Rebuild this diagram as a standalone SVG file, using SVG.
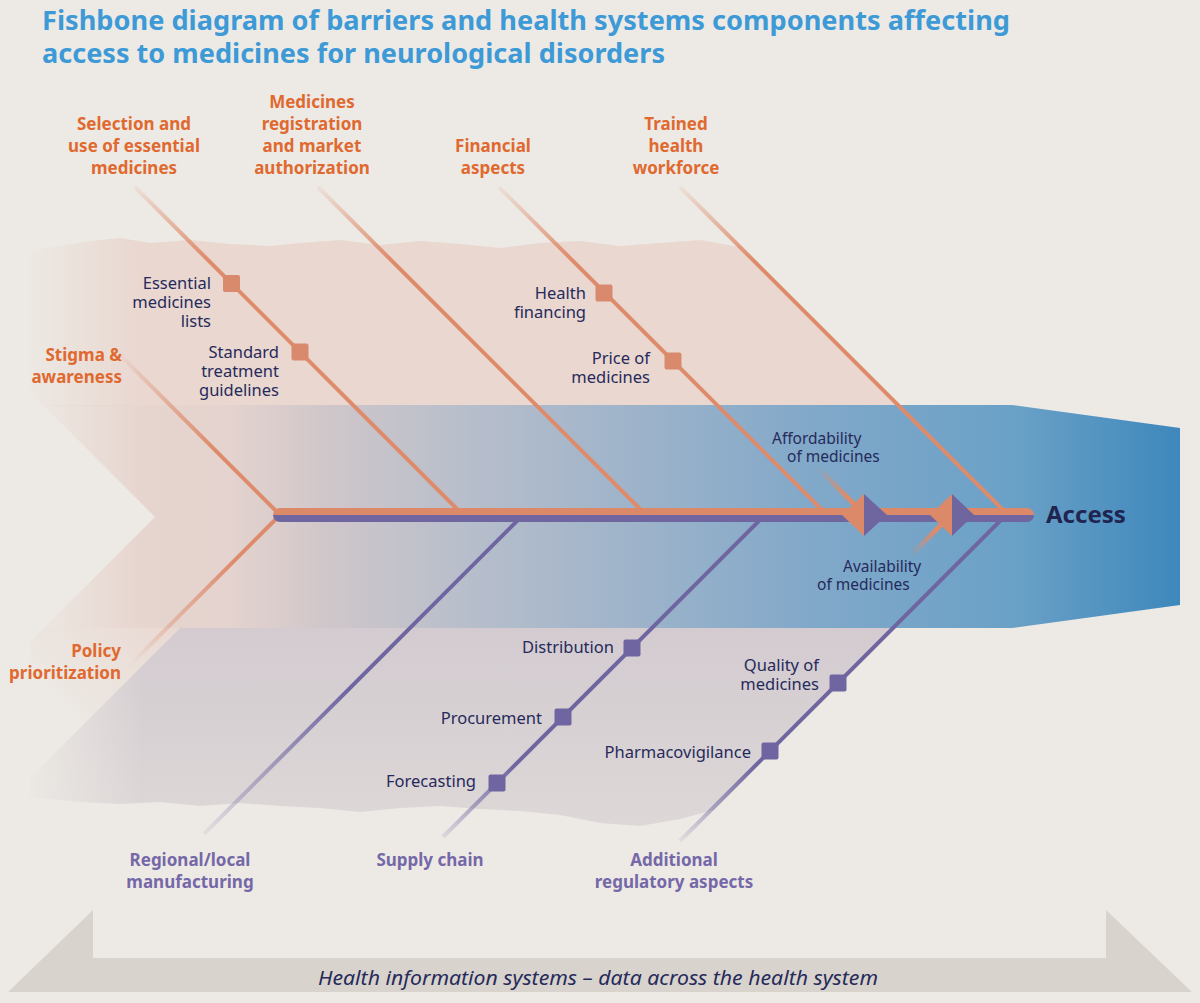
<svg xmlns="http://www.w3.org/2000/svg" width="1200" height="1003" viewBox="0 0 1200 1003">
<defs>
<style>
.lo{font-family:"Noto Sans","Open Sans",sans-serif;font-weight:700;font-size:17px;fill:#E0692F;text-anchor:middle}
.lor{font-family:"Noto Sans","Open Sans",sans-serif;font-weight:700;font-size:17px;fill:#E0692F;text-anchor:end}
.lp{font-family:"Noto Sans","Open Sans",sans-serif;font-weight:700;font-size:17px;fill:#7568A8;text-anchor:middle}
.sub{font-family:"Noto Sans","Open Sans",sans-serif;font-size:16.5px;fill:#262A5B;text-anchor:end}
.sm{font-family:"Noto Sans","Open Sans",sans-serif;font-size:15.5px;fill:#262A5B}
.bo{stroke-width:4;fill:none}
.sqo{fill:#DA8A6C}
.sqp{fill:#6F66A1}
</style>
<linearGradient id="mg" gradientUnits="userSpaceOnUse" x1="22" y1="0" x2="140" y2="0">
<stop offset="0" stop-color="#000"/><stop offset="1" stop-color="#fff"/>
</linearGradient>
<mask id="fadeL" maskUnits="userSpaceOnUse" x="0" y="0" width="1200" height="1003">
<rect x="0" y="0" width="1200" height="1003" fill="url(#mg)"/>
</mask>
<linearGradient id="blue" gradientUnits="userSpaceOnUse" x1="40" y1="0" x2="1180" y2="0">
<stop offset="0" stop-color="#E9D6CF"/>
<stop offset="0.167" stop-color="#E4D3CE"/>
<stop offset="0.254" stop-color="#CFC6CA"/>
<stop offset="0.36" stop-color="#BABFCB"/>
<stop offset="0.526" stop-color="#9DB3CA"/>
<stop offset="0.684" stop-color="#80A8C9"/>
<stop offset="0.852" stop-color="#6BA1C7"/>
<stop offset="1" stop-color="#3E88BC"/>
</linearGradient>
<linearGradient id="purp" gradientUnits="userSpaceOnUse" x1="0" y1="628" x2="0" y2="820">
<stop offset="0" stop-color="#D3CBD0"/><stop offset="1" stop-color="#DDD7D7"/>
</linearGradient>
<linearGradient id="stripe" gradientUnits="userSpaceOnUse" x1="175" y1="600" x2="60" y2="715">
<stop offset="0" stop-color="#E9D6CF" stop-opacity="1"/><stop offset="1" stop-color="#E9D6CF" stop-opacity="0"/>
</linearGradient>
<linearGradient id="gUp" gradientUnits="userSpaceOnUse" x1="0" y1="185" x2="0" y2="262">
<stop offset="0" stop-color="#DE8B6B" stop-opacity="0.08"/><stop offset="1" stop-color="#DE8B6B" stop-opacity="1"/>
</linearGradient>
<linearGradient id="gDown" gradientUnits="userSpaceOnUse" x1="0" y1="845" x2="0" y2="765">
<stop offset="0" stop-color="#6F66A1" stop-opacity="0.05"/><stop offset="1" stop-color="#6F66A1" stop-opacity="1"/>
</linearGradient>
<linearGradient id="gDownR" gradientUnits="userSpaceOnUse" x1="0" y1="840" x2="0" y2="690">
<stop offset="0" stop-color="#6F66A1" stop-opacity="0.05"/><stop offset="1" stop-color="#6F66A1" stop-opacity="1"/>
</linearGradient>
<linearGradient id="gStig" gradientUnits="userSpaceOnUse" x1="115" y1="0" x2="215" y2="0">
<stop offset="0" stop-color="#DE8B6B" stop-opacity="0"/><stop offset="1" stop-color="#DE8B6B" stop-opacity="1"/>
</linearGradient>
<linearGradient id="gPol" gradientUnits="userSpaceOnUse" x1="130" y1="0" x2="235" y2="0">
<stop offset="0" stop-color="#DE8B6B" stop-opacity="0"/><stop offset="1" stop-color="#DE8B6B" stop-opacity="1"/>
</linearGradient>
<linearGradient id="gAff" gradientUnits="userSpaceOnUse" x1="818" y1="468" x2="848" y2="498">
<stop offset="0" stop-color="#DE8B6B" stop-opacity="0"/><stop offset="1" stop-color="#DE8B6B" stop-opacity="1"/>
</linearGradient>
<linearGradient id="gAv" gradientUnits="userSpaceOnUse" x1="910" y1="556" x2="936" y2="530">
<stop offset="0" stop-color="#DE8B6B" stop-opacity="0"/><stop offset="1" stop-color="#DE8B6B" stop-opacity="1"/>
</linearGradient>
<clipPath id="spineClip"><rect x="273" y="508" width="761" height="14" rx="7"/></clipPath>
</defs>

<rect x="0" y="0" width="1200" height="1003" fill="#EDEAE5"/>

<g id="background-bands">
<path mask="url(#fadeL)" fill="#E9D7D0" d="M30,251 L60,246 L90,241 L120,238 L150,243 L190,240 L230,244 L270,246 L300,243 L340,240 L380,245 L420,241 L460,244 L500,248 L540,243 L580,241 L620,246 L660,243 L700,240 L740,247 L900,406 L43,406 L30,393 Z"/>
<path fill="url(#stripe)" d="M44,628 L180,628 L30,778 L30,642 Z"/>
<path mask="url(#fadeL)" fill="url(#purp)" d="M180,628 L896,628 L714,810 L680,819 L640,826 L600,823 L560,815 L520,811 L480,809 L440,806 L400,808 L360,812 L320,808 L280,806 L240,803 L200,806 L160,802 L120,804 L80,802 L30,797 L30,778 Z"/>
<path mask="url(#fadeL)" fill="url(#blue)" d="M43,405 L1012,405 L1180,428 L1180,605 L1012,628 L44,628 L155,517 Z"/>
</g>

<g id="connectors">
<line class="bo" stroke="url(#gUp)" x1="135" y1="187" x2="458" y2="510"/>
<line class="bo" stroke="url(#gUp)" x1="318" y1="187" x2="641" y2="510"/>
<line class="bo" stroke="url(#gUp)" x1="499" y1="187" x2="822" y2="510"/>
<line class="bo" stroke="url(#gUp)" x1="680" y1="187" x2="1003" y2="510"/>
<line class="bo" stroke="url(#gStig)" x1="115" y1="350" x2="277" y2="512"/>
<line class="bo" stroke="url(#gPol)" x1="277" y1="518" x2="128" y2="667"/>
<line class="bo" stroke="url(#gDownR)" x1="521" y1="517" x2="204" y2="834"/>
<line class="bo" stroke="url(#gDown)" x1="763" y1="517" x2="443" y2="837"/>
<line class="bo" stroke="url(#gDown)" x1="1004" y1="517" x2="680" y2="841"/>
<g clip-path="url(#spineClip)">
<rect x="270" y="508" width="770" height="7.5" fill="#DC896A"/>
<rect x="270" y="515" width="770" height="7" fill="#6F66A0"/>
</g>
<line stroke="url(#gAff)" stroke-width="5" x1="818" y1="468" x2="856" y2="506"/>
<line stroke="url(#gAv)" stroke-width="5" x1="910" y1="556" x2="944" y2="522"/>
<polygon fill="#DC896A" points="842,515 864,494 864,536"/>
<polygon fill="#6F66A0" points="864,494 887,515 864,536"/>
<polygon fill="#DC896A" points="930,515 952,494 952,536"/>
<polygon fill="#6F66A0" points="952,494 974,515 952,536"/>
</g>

<g id="title">
<text x="42" y="30" textLength="968" lengthAdjust="spacingAndGlyphs" style="font-family:'Noto Sans','Open Sans',sans-serif;font-weight:700;font-size:27px;fill:#3D9AD7">Fishbone diagram of barriers and health systems components affecting</text>
<text x="42" y="63" textLength="623" lengthAdjust="spacingAndGlyphs" style="font-family:'Noto Sans','Open Sans',sans-serif;font-weight:700;font-size:27px;fill:#3D9AD7">access to medicines for neurological disorders</text>
</g>

<g id="node-selection">
<text class="lo" x="134" y="130">Selection and</text>
<text class="lo" x="134" y="152">use of essential</text>
<text class="lo" x="134" y="174">medicines</text>
</g>
<g id="node-registration">
<text class="lo" x="312" y="108">Medicines</text>
<text class="lo" x="312" y="130">registration</text>
<text class="lo" x="312" y="152">and market</text>
<text class="lo" x="312" y="174">authorization</text>
</g>
<g id="node-financial">
<text class="lo" x="493" y="152">Financial</text>
<text class="lo" x="493" y="174">aspects</text>
</g>
<g id="node-workforce">
<text class="lo" x="676" y="130">Trained</text>
<text class="lo" x="676" y="152">health</text>
<text class="lo" x="676" y="174">workforce</text>
</g>
<g id="node-stigma">
<text class="lor" x="122" y="361">Stigma &amp;</text>
<text class="lor" x="122" y="383">awareness</text>
</g>
<g id="node-policy">
<text class="lor" x="121" y="657">Policy</text>
<text class="lor" x="121" y="679">prioritization</text>
</g>
<g id="node-regional">
<text class="lp" x="190" y="866">Regional/local</text>
<text class="lp" x="190" y="888">manufacturing</text>
</g>
<g id="node-supply">
<text class="lp" x="430" y="866">Supply chain</text>
</g>
<g id="node-regulatory">
<text class="lp" x="674" y="866">Additional</text>
<text class="lp" x="674" y="888">regulatory aspects</text>
</g>

<g id="node-eml">
<rect class="sqo" x="223" y="275" width="17" height="17" rx="2"/>
<text class="sub" x="211" y="289">Essential</text>
<text class="sub" x="211" y="308">medicines</text>
<text class="sub" x="211" y="327">lists</text>
</g>
<g id="node-stg">
<rect class="sqo" x="291.5" y="343.5" width="17" height="17" rx="2"/>
<text class="sub" x="279" y="358">Standard</text>
<text class="sub" x="279" y="377">treatment</text>
<text class="sub" x="279" y="396">guidelines</text>
</g>
<g id="node-healthfin">
<rect class="sqo" x="595.5" y="284.5" width="17" height="17" rx="2"/>
<text class="sub" x="586" y="299">Health</text>
<text class="sub" x="586" y="318">financing</text>
</g>
<g id="node-price">
<rect class="sqo" x="664.5" y="352.5" width="17" height="17" rx="2"/>
<text class="sub" x="650" y="364">Price of</text>
<text class="sub" x="650" y="383">medicines</text>
</g>
<g id="node-distribution">
<rect class="sqp" x="623.5" y="639.5" width="17" height="17" rx="2"/>
<text class="sub" x="614" y="653">Distribution</text>
</g>
<g id="node-procurement">
<rect class="sqp" x="554.5" y="708.5" width="17" height="17" rx="2"/>
<text class="sub" x="542" y="724">Procurement</text>
</g>
<g id="node-forecasting">
<rect class="sqp" x="488.5" y="774.5" width="17" height="17" rx="2"/>
<text class="sub" x="476" y="787">Forecasting</text>
</g>
<g id="node-quality">
<rect class="sqp" x="829.5" y="674.5" width="17" height="17" rx="2"/>
<text class="sub" x="819" y="671">Quality of</text>
<text class="sub" x="819" y="690">medicines</text>
</g>
<g id="node-pharmacovigilance">
<rect class="sqp" x="761.5" y="742.5" width="17" height="17" rx="2"/>
<text class="sub" x="751" y="758">Pharmacovigilance</text>
</g>
<g id="node-affordability">
<text class="sm" x="772" y="444">Affordability</text>
<text class="sm" x="787" y="462">of medicines</text>
</g>
<g id="node-availability">
<text class="sm" x="843" y="572">Availability</text>
<text class="sm" x="817" y="590">of medicines</text>
</g>
<g id="node-access">
<text x="1046" y="523" style="font-family:'Noto Sans','Open Sans',sans-serif;font-weight:700;font-size:24px;fill:#1F2450">Access</text>
</g>

<g id="node-his">
<path fill="#D8D3CC" d="M8,992 L93,910 L93,958 L1106,958 L1106,910 L1192,992 Z"/>
<text x="318" y="985" textLength="560" lengthAdjust="spacingAndGlyphs" style="font-family:'Noto Sans','Open Sans',sans-serif;font-style:italic;font-size:20px;fill:#262A5B">Health information systems – data across the health system</text>
</g>
</svg>
